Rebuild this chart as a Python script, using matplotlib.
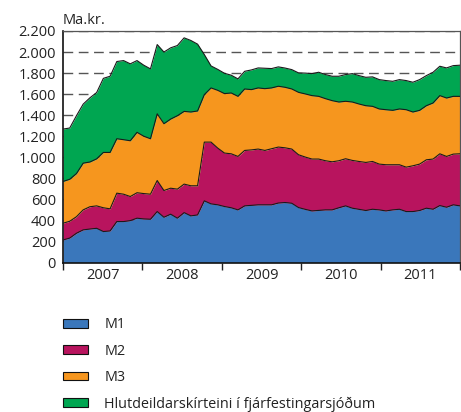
import numpy as np
import matplotlib
matplotlib.use("Agg")
import matplotlib.pyplot as plt
from matplotlib.patches import Patch
from matplotlib.ticker import FuncFormatter

plt.rcParams['font.family'] = ['Open Sans', 'DejaVu Sans']

# monthly levels, Jan 2007 - Dec 2011 (billions ISK)
m1 = [214, 232, 278, 310, 318, 325, 294, 300, 389, 389, 398, 421,
      414, 411, 484, 430, 459, 421, 474, 443, 452, 586, 557, 548,
      532, 520, 500, 538, 543, 548, 548, 548, 565, 570, 563, 522,
      505, 490, 495, 500, 500, 520, 538, 516, 505, 494, 506, 500,
      490, 500, 506, 484, 484, 494, 516, 506, 541, 525, 548, 538]
m2 = [373, 392, 435, 500, 530, 538, 520, 510, 659, 649, 627, 663,
      655, 649, 779, 684, 706, 697, 745, 729, 729, 1144, 1144, 1087,
      1040, 1033, 1008, 1065, 1070, 1078, 1065, 1081, 1097, 1090, 1078, 1024,
      1002, 983, 983, 967, 957, 967, 986, 970, 960, 951, 960, 935,
      929, 929, 929, 906, 919, 935, 976, 983, 1033, 1008, 1030, 1033]
m3 = [770, 791, 845, 944, 955, 985, 1046, 1046, 1176, 1167, 1157, 1237,
      1200, 1176, 1413, 1319, 1363, 1395, 1436, 1430, 1440, 1595, 1659, 1636,
      1605, 1611, 1579, 1649, 1643, 1659, 1652, 1659, 1675, 1665, 1649, 1617,
      1602, 1586, 1579, 1557, 1538, 1525, 1532, 1525, 1506, 1490, 1484, 1459,
      1452, 1446, 1459, 1452, 1430, 1446, 1490, 1516, 1586, 1563, 1579, 1579]
total = [1268, 1278, 1395, 1505, 1565, 1615, 1750, 1770, 1910, 1919, 1888, 1919,
         1875, 1840, 2071, 2000, 2040, 2062, 2135, 2110, 2075, 1976, 1868, 1835,
         1798, 1780, 1745, 1817, 1830, 1849, 1846, 1843, 1859, 1848, 1833, 1802,
         1800, 1795, 1808, 1786, 1770, 1770, 1786, 1795, 1776, 1760, 1764, 1738,
         1729, 1722, 1738, 1729, 1713, 1738, 1776, 1808, 1865, 1849, 1871, 1875]
years = ['2007', '2008', '2009', '2010', '2011']
labels = ['M1', 'M2', 'M3', 'Hlutdeildarskírteini í fjárfestingarsjóðum']
colors = ['#3a77bb', '#b8145e', '#f6961e', '#00a651']

x = np.arange(len(m1))
fig = plt.figure(figsize=(4.61, 4.12), dpi=100)
ax = fig.add_axes([63 / 461, 1 - 262.5 / 412, 397 / 461, 231.5 / 412])

layers = [np.zeros(len(x)), m1, m2, m3, total]
for i in range(4):
    ax.fill_between(x, layers[i], layers[i + 1], color=colors[i], lw=0, zorder=2)
    ax.plot(x, layers[i + 1], color='#1a1a1a', lw=0.8, zorder=3)

ax.set_xlim(0, len(x) - 1)
ax.set_ylim(0, 2200)
ax.set_yticks(np.arange(0, 2201, 200))
ax.yaxis.set_major_formatter(FuncFormatter(lambda v, p: f'{int(v):,}'.replace(',', '.')))
ax.yaxis.grid(True, color='#555555', lw=1.0, dashes=(7, 4), zorder=1)
ax.set_axisbelow(True)

edges = np.linspace(0, len(x) - 1, len(years) + 1)
ax.set_xticks(edges)
ax.set_xticklabels([])
ax.set_xticks((edges[:-1] + edges[1:]) / 2, minor=True)
ax.set_xticklabels(years, minor=True)
ax.tick_params(axis='x', which='major', length=5, width=1, color='#222222', direction='out')
ax.tick_params(axis='x', which='minor', length=0, pad=4, labelsize=10.5, labelcolor='#222222')
ax.tick_params(axis='y', length=0, pad=5, labelsize=10.5, labelcolor='#222222')

for s in ['left', 'bottom']:
    ax.spines[s].set_color('#111111')
    ax.spines[s].set_linewidth(1.2)
for s in ['top', 'right']:
    ax.spines[s].set_color('#555555')
    ax.spines[s].set_linewidth(0.9)

fig.text(63 / 461, 1 - 20 / 412, 'Ma.kr.', fontsize=10.5, color='#222222', va='center', ha='left')

handles = [Patch(facecolor=c, edgecolor='#111111', lw=0.8) for c in colors]
fig.legend(handles, labels, loc='upper left', bbox_to_anchor=(63 / 461, 1 - 317.5 / 412),
           frameon=False, fontsize=10.4, handlelength=1.75, handleheight=0.55,
           handletextpad=1.1, labelspacing=0.78, borderpad=0, borderaxespad=0,
           labelcolor='#222222')

fig.savefig('out.png', dpi=100)
